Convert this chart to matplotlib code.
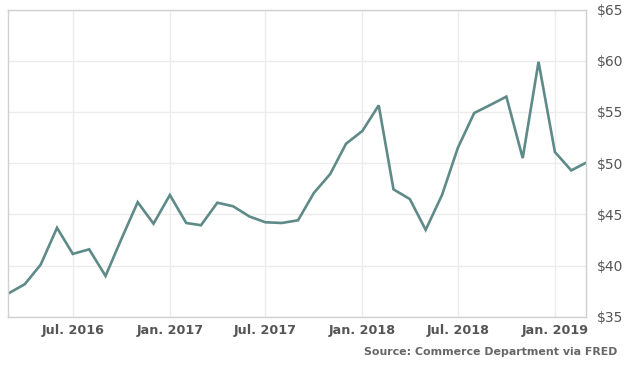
import numpy as np
import pandas as pd
import matplotlib
matplotlib.use("Agg")
import matplotlib.pyplot as plt
import matplotlib.dates as mdates
from matplotlib.ticker import FuncFormatter

# monthly values, Mar 2016 - Mar 2019
dates = pd.date_range("2016-03-01", "2019-03-01", freq="MS")
values = [37.3, 38.2, 40.1, 43.7, 41.15, 41.6, 39.0, 42.6, 46.2, 44.1,
          46.9, 44.17, 43.95, 46.15, 45.8, 44.8, 44.24, 44.17, 44.43, 47.1,
          48.95, 51.9, 53.15, 55.65, 47.45, 46.5, 43.5, 46.9, 51.5, 54.9,
          55.7, 56.5, 50.5, 59.9, 51.1, 49.3, 50.05]

xtick_dates = pd.to_datetime(["2016-07-01", "2017-01-01", "2017-07-01",
                              "2018-01-01", "2018-07-01", "2019-01-01"])
xtick_labels = ["Jul. 2016", "Jan. 2017", "Jul. 2017",
                "Jan. 2018", "Jul. 2018", "Jan. 2019"]
yticks = [35, 40, 45, 50, 55, 60, 65]

plt.rcParams['font.family'] = ['DejaVu Sans']

fig = plt.figure(figsize=(6.24, 3.66), dpi=100)
ax = fig.add_axes([0.0136, 0.134, 0.9255, 0.840])

ax.plot(dates, values, color="#5e8a87", lw=1.9, solid_joinstyle="miter")

ax.set_xlim(dates[0], dates[-1])
ax.set_ylim(35, 65)

ax.set_xticks(xtick_dates)
ax.set_xticklabels(xtick_labels, fontsize=9.2, fontweight="bold", color="#555555")
ax.set_yticks(yticks)
ax.yaxis.set_major_formatter(FuncFormatter(lambda v, p: f"${v:.0f}"))
ax.yaxis.tick_right()
for lab in ax.get_yticklabels():
    lab.set_fontsize(10)
    lab.set_color("#555555")

ax.tick_params(axis="both", length=0)
ax.tick_params(axis="y", pad=8)
ax.tick_params(axis="x", pad=5)

ax.grid(True, color="#ececec", lw=1)
ax.set_axisbelow(True)
for s in ax.spines.values():
    s.set_color("#d0d0d0")
    s.set_linewidth(1)

fig.text(0.990, 0.038, "Source: Commerce Department via FRED", ha="right",
         va="center", fontsize=7.9, fontweight="bold", color="#666666")

fig.savefig("out.png", dpi=100, facecolor="white")
